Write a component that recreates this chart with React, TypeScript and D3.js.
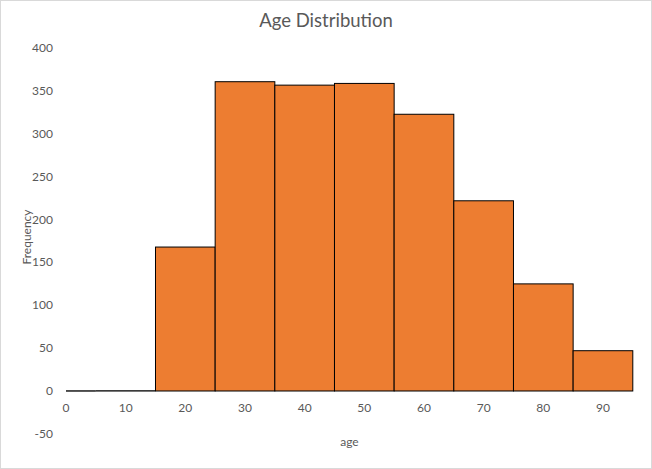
import React from "react";
import * as d3 from "d3";

const binCenters = [0, 10, 20, 30, 40, 50, 60, 70, 80, 90];
const frequencies = [0, 0, 168, 361, 357, 359, 323, 222, 125, 47];
const yTicks = [-50, 0, 50, 100, 150, 200, 250, 300, 350, 400];
const xTicks = [0, 10, 20, 30, 40, 50, 60, 70, 80, 90];
const binWidth = 10;

const W = 652;
const H = 469;

export default function App() {
  const x = d3.scaleLinear().domain([0, 95]).range([66, 632.8]);
  const y = d3.scaleLinear().domain([-50, 400]).range([433.8, 48.3]);
  const font = "Lato, 'Open Sans', sans-serif";
  const grey = "#595959";

  return (
    <svg width={W} height={H} style={{ position: "absolute", left: 0, top: 0, background: "#fff" }}>
      <rect x={0.5} y={0.5} width={W - 1} height={H - 1} fill="#fff" stroke="#d9d9d9" />
      <text x={W / 2} y={27} textAnchor="middle" fontSize={18.5} fill={grey} fontFamily={font}>
        Age Distribution
      </text>
      <line x1={x(0)} x2={x(95)} y1={y(0)} y2={y(0)} stroke="#d9d9d9" strokeWidth={1} />
      {yTicks.map((t) => (
        <text key={t} x={53} y={y(t) + 4} textAnchor="end" fontSize={12} fill={grey} fontFamily={font}>
          {t}
        </text>
      ))}
      {xTicks.map((t) => (
        <text key={t} x={x(t)} y={412} textAnchor="middle" fontSize={12} fill={grey} fontFamily={font}>
          {t}
        </text>
      ))}
      {binCenters.map((c, i) => {
        const x0 = x(Math.max(0, c - binWidth / 2));
        const x1 = x(c + binWidth / 2);
        const v = frequencies[i];
        if (v === 0) {
          return <line key={c} x1={x0} x2={x1} y1={y(0)} y2={y(0)} stroke="#000" strokeWidth={1.3} />;
        }
        return (
          <rect
            key={c}
            x={x0}
            y={y(v)}
            width={x1 - x0}
            height={y(0) - y(v)}
            fill="#ED7D31"
            stroke="#000"
            strokeWidth={1}
          />
        );
      })}
      <text x={(x(0) + x(95)) / 2} y={446} textAnchor="middle" fontSize={12} fill={grey} fontFamily={font}>
        age
      </text>
      <text
        transform={`translate(31, ${237}) rotate(-90)`}
        textAnchor="middle"
        fontSize={12}
        fill={grey}
        fontFamily={font}
      >
        Frequency
      </text>
    </svg>
  );
}
